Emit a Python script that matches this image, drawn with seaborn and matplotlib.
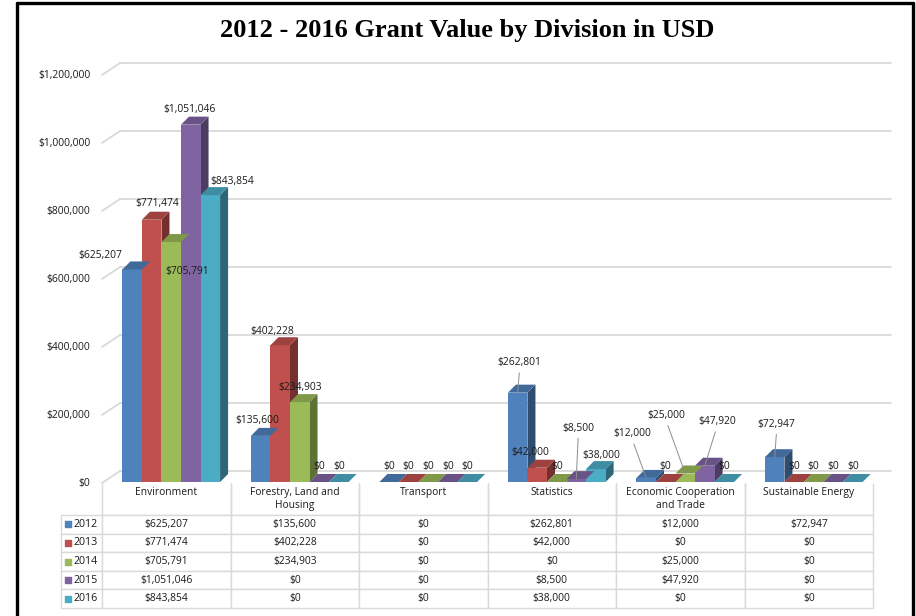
import matplotlib
matplotlib.use("Agg")
import matplotlib.pyplot as plt
import matplotlib.ticker as mticker
import matplotlib.colors as mcolors
from matplotlib.patches import Polygon
from matplotlib.lines import Line2D
from matplotlib.table import Table
import pandas as pd
import seaborn as sns

# data
divisions = ["Environment", "Forestry, Land and Housing", "Transport",
             "Statistics", "Economic Cooperation and Trade", "Sustainable Energy"]
header_labels = ["Environment\n ", "Forestry, Land and\nHousing", "Transport\n ",
                 "Statistics\n ", "Economic Cooperation\nand Trade", "Sustainable Energy\n "]
years = ["2012", "2013", "2014", "2015", "2016"]
grant_2012 = [625207, 135600, 0, 262801, 12000, 72947]
grant_2013 = [771474, 402228, 0, 42000, 0, 0]
grant_2014 = [705791, 234903, 0, 0, 25000, 0]
grant_2015 = [1051046, 0, 0, 8500, 47920, 0]
grant_2016 = [843854, 0, 0, 38000, 0, 0]
series = [grant_2012, grant_2013, grant_2014, grant_2015, grant_2016]
yticks = [0, 200000, 400000, 600000, 800000, 1000000, 1200000]

colors = ["#4F81BD", "#C0504D", "#9BBB59", "#8064A2", "#4BACC6"]

rows = []
for year, vals in zip(years, series):
    for div, v in zip(divisions, vals):
        rows.append({"division": div, "year": year, "value": v})
df = pd.DataFrame(rows)

# label offsets in pixels (dx, dy, leader line)
label_offsets = {
    (0, 0): (-32, -14, False), (0, 1): (6, -16, False), (0, 2): (16, 29, False),
    (0, 3): (-1, -15, False), (0, 4): (22, -14, False),
    (1, 0): (-3, -15, False), (1, 1): (-8, -14, False),
    (3, 0): (2, -30, True), (3, 1): (-7, -15, False), (3, 3): (2, -51, True),
    (3, 4): (5, -14, False),
    (4, 0): (-14, -44, True), (4, 2): (-19, -58, True), (4, 3): (12, -44, True),
    (5, 0): (2, -33, True),
}

W, H = 916, 616
FS = 7.4
sns.set_style("white")
plt.rcParams["font.family"] = ["Open Sans", "DejaVu Sans"]

fig = plt.figure(figsize=(W / 100, H / 100), dpi=100)

# main chart area
ax = fig.add_axes([107 / W, 1 - 482 / H, 771 / W, 408 / H])
sns.barplot(data=df, x="division", y="value", hue="year", order=divisions,
            hue_order=years, palette=colors, width=0.76, saturation=1,
            legend=False, linewidth=0, ax=ax, zorder=3)
ax.set_xlim(-0.5, len(divisions) - 0.5)
ax.set_ylim(0, 1200000)
ax.set_yticks(yticks)
ax.yaxis.set_major_formatter(mticker.StrMethodFormatter("${x:,.0f}"))
ax.tick_params(axis="y", length=0, pad=12, labelsize=FS, labelcolor="#1a1a1a")
ax.set_xticks([])
ax.set_xlabel("")
ax.set_ylabel("")
for s in ax.spines.values():
    s.set_visible(False)

# back wall gridlines (3D look)
for v in yticks:
    ya = v / 1200000
    ax.add_line(Line2D([13 / 771, 784 / 771], [ya + 11 / 408, ya + 11 / 408],
                       transform=ax.transAxes, color="#d9d9d9", lw=1.3,
                       clip_on=False, zorder=0))
    ax.add_line(Line2D([-5 / 771, 13 / 771], [ya - 1 / 408, ya + 11 / 408],
                       transform=ax.transAxes, color="#d9d9d9", lw=1.3,
                       clip_on=False, zorder=0))

# depth faces for the bars
depth_px = 8
dx = depth_px * len(divisions) / 771
dy = depth_px * 1200000 / 408
bars = sorted(ax.patches, key=lambda p: p.get_x())
for p in bars:
    x0, w, h = p.get_x(), p.get_width(), p.get_height()
    x1 = x0 + w
    rgb = mcolors.to_rgb(p.get_facecolor())
    side = tuple(c * 0.6 for c in rgb)
    top = tuple(c * 0.82 for c in rgb)
    ax.add_patch(Polygon([(x1, 0), (x1 + dx, dy), (x1 + dx, h + dy), (x1, h)],
                         closed=True, facecolor=side, edgecolor="none", zorder=2))
    ax.add_patch(Polygon([(x0, h), (x0 + dx, h + dy), (x1 + dx, h + dy), (x1, h)],
                         closed=True, facecolor=top, edgecolor="none", zorder=3.5))

# data labels
for j, vals in enumerate(series):
    for i, v in enumerate(vals):
        xc = i + (j - 2) * 0.76 / 5
        ox, oy, leader = label_offsets.get((i, j), (0, -15, False))
        kw = {}
        if leader:
            kw["arrowprops"] = dict(arrowstyle="-", color="#8c8c8c", lw=0.7,
                                    shrinkA=1, shrinkB=0, relpos=(0.5, 0))
        ax.annotate(f"${v:,.0f}", xy=(xc, v), xytext=(ox * 0.72, -oy * 0.72),
                    textcoords="offset points", ha="center", va="center",
                    fontsize=FS, color="#1a1a1a", zorder=6, **kw)

# data table under the chart
ax_t = fig.add_axes([61 / W, 1 - 608 / H, 812 / W, 125 / H])
ax_t.axis("off")
tbl = Table(ax_t, bbox=[0, 0, 1, 1])
corner = tbl.add_cell(0, 0, width=41, height=32, text="")
corner.visible_edges = ""
for c, lab in enumerate(header_labels):
    hc = tbl.add_cell(0, c + 1, width=128.5, height=32, text=lab, loc="center")
    hc.visible_edges = "BLR"
for r, (year, vals) in enumerate(zip(years, series)):
    tbl.add_cell(r + 1, 0, width=41, height=18.6, text=year, loc="right")
    for c, v in enumerate(vals):
        tbl.add_cell(r + 1, c + 1, width=128.5, height=18.6, text=f"${v:,.0f}",
                     loc="center")
tbl.auto_set_font_size(False)
tbl.set_fontsize(FS)
for (r, c), cell in tbl.get_celld().items():
    cell.set_edgecolor("#d9d9d9")
    cell.set_linewidth(1)
    cell.get_text().set_color("#1a1a1a")
    if c == 0 and r > 0:
        cell.get_text().set_fontsize(FS + 0.3)
ax_t.add_table(tbl)

# legend squares in the table's row labels
for r, col in enumerate(colors):
    yc = 1 - (32 + 18.6 * (r + 0.5)) / 125
    ax_t.scatter([6.5 / 812], [yc], marker="s", s=24, color=col,
                 transform=ax_t.transAxes, clip_on=False, zorder=5)

# title
fig.text(467 / W, 1 - 30 / H, "2012 - 2016 Grant Value by Division in USD",
         ha="center", va="center", fontsize=19, fontweight="bold", color="black",
         family=["Liberation Serif", "DejaVu Serif"])

# outer black frame
fig.add_artist(Line2D([17 / W, 17 / W], [0, 1 - 2.5 / H], color="black", lw=2.4,
                      transform=fig.transFigure))
fig.add_artist(Line2D([17 / W, 912.5 / W], [1 - 2.5 / H, 1 - 2.5 / H], color="black",
                      lw=2.4, transform=fig.transFigure))
fig.add_artist(Line2D([912.5 / W, 912.5 / W], [0, 1 - 2.5 / H], color="black", lw=2.4,
                      transform=fig.transFigure))

fig.savefig("out.png", dpi=100)
